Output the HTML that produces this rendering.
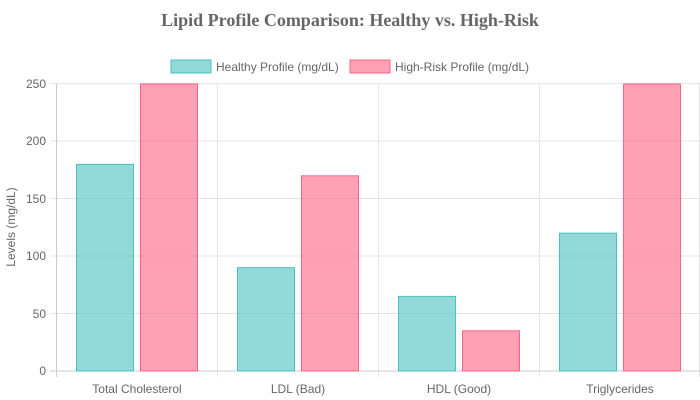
<!DOCTYPE html>
<html><head><style>
body{margin:0;background:#fff;}
svg{display:block;font-family:"Liberation Sans",Arial,sans-serif;}
</style></head><body>
<svg width="700" height="400" xmlns="http://www.w3.org/2000/svg">
<text x="350" y="26" text-anchor="middle" font-family="Liberation Serif,serif" font-weight="bold" font-size="18" fill="#666">Lipid Profile Comparison: Healthy vs. High-Risk</text>
<rect x="171" y="60" width="40" height="13" fill="rgba(75,192,192,0.6)" stroke="#4bc0c0" stroke-width="1"/>
<text x="216" y="71" font-size="12" fill="#666">Healthy Profile (mg/dL)</text>
<rect x="350" y="60" width="40" height="13" fill="rgba(255,99,132,0.6)" stroke="#ff6384" stroke-width="1"/>
<text x="395" y="71" font-size="12" fill="#666">High-Risk Profile (mg/dL)</text>
<g stroke="#e5e5e5" stroke-width="1">
<line x1="50" y1="83.5" x2="700" y2="83.5"/>
<line x1="50" y1="141" x2="700" y2="141"/>
<line x1="50" y1="198.5" x2="700" y2="198.5"/>
<line x1="50" y1="256" x2="700" y2="256"/>
<line x1="50" y1="313.5" x2="700" y2="313.5"/>
<line x1="217.5" y1="83.5" x2="217.5" y2="377"/>
<line x1="378.5" y1="83.5" x2="378.5" y2="377"/>
<line x1="539.5" y1="83.5" x2="539.5" y2="377"/>
<line x1="699.5" y1="83.5" x2="699.5" y2="377"/>
</g>
<g stroke="#ccc"><line x1="56.5" y1="83.5" x2="56.5" y2="377"/><line x1="50" y1="371" x2="700" y2="371"/></g>
<g font-size="12" fill="#666" text-anchor="end">
<text x="46" y="88">250</text><text x="46" y="145">200</text><text x="46" y="203">150</text><text x="46" y="260">100</text><text x="46" y="318">50</text><text x="46" y="375">0</text>
</g>
<text transform="translate(15,227) rotate(-90)" text-anchor="middle" font-size="12" fill="#666">Levels (mg/dL)</text>
<g font-size="12" fill="#666" text-anchor="middle">
<text x="137" y="393">Total Cholesterol</text><text x="298" y="393">LDL (Bad)</text><text x="459" y="393">HDL (Good)</text><text x="620" y="393">Triglycerides</text>
</g>
<g fill="rgba(75,192,192,0.6)" stroke="#4bc0c0" stroke-width="1">
<rect x="76.5" y="164.4" width="57" height="206.6"/>
<rect x="237.5" y="267.7" width="57" height="103.3"/>
<rect x="398.5" y="296.4" width="57" height="74.6"/>
<rect x="559.5" y="233.2" width="57" height="137.8"/>
</g>
<g fill="rgba(255,99,132,0.6)" stroke="#ff6384" stroke-width="1">
<rect x="140.5" y="84" width="57" height="287"/>
<rect x="301.5" y="175.8" width="57" height="195.2"/>
<rect x="462.5" y="330.8" width="57" height="40.2"/>
<rect x="623.5" y="84" width="57" height="287"/>
</g>
</svg>
</body></html>
